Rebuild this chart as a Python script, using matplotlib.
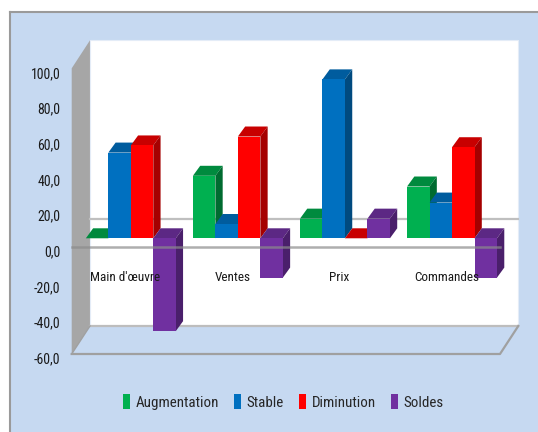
"""Recreate the 3D clustered column chart (Augmentation / Stable / Diminution / Soldes)."""

import matplotlib
matplotlib.use("Agg")
import matplotlib.pyplot as plt
import matplotlib.transforms as mtransforms
from matplotlib import font_manager
from matplotlib.patches import Polygon, Rectangle, Patch
from matplotlib.lines import Line2D

# Data
categories = ["Main d'œuvre", "Ventes", "Prix", "Commandes"]
series_names = ["Augmentation", "Stable", "Diminution", "Soldes"]
augmentation = [0, 35, 11, 29]
stable = [48, 8, 89, 20]
diminution = [52, 57, 0, 51]
soldes = [-52, -22, 11, -22]
y_ticks = [-60, -40, -20, 0, 20, 40, 60, 80, 100]

# front, top and side face colours for each series
front_colors = ["#00B050", "#0070C0", "#FF0000", "#7030A0"]
top_colors = ["#008A3E", "#005C9E", "#C80000", "#5C2884"]
side_colors = ["#006B30", "#004A7F", "#A50000", "#4A1F6B"]

BG = "#C6D9F1"

# oblique depth of the walls / bars (data units)
WALL_DX, WALL_DY = 0.171, 15.7
BAR_SHIFT_DX, BAR_SHIFT_DY = 0.052, 4.8
BAR_DX, BAR_DY = 0.068, 5.6
BAR_W = 0.21
GROUP_PAD = 0.08


def pick_font():
    """Find a narrow font, the reference uses a condensed face."""
    entries = [(f.name, f.stretch) for f in font_manager.fontManager.ttflist]
    names = {e[0] for e in entries}
    for name in ["Liberation Sans Narrow", "Roboto Condensed", "Open Sans Condensed",
                 "DejaVu Sans Condensed"]:
        if name in names:
            return [name, "DejaVu Sans"], "normal"
    for name, stretch in entries:
        if name in ("DejaVu Sans", "Open Sans", "Roboto", "Noto Sans") and \
                stretch in ("condensed", "semi-condensed", 75, 87.5):
            return [name, "DejaVu Sans"], "condensed"
    return ["Roboto", "DejaVu Sans"], "normal"


FONT, STRETCH = pick_font()


def draw_bar(ax, x0, value, i):
    """Draw one 3D-looking column with its front, top and side faces."""
    x0 = x0 + BAR_SHIFT_DX
    lo = BAR_SHIFT_DY + min(value, 0)
    hi = BAR_SHIFT_DY + max(value, 0)
    x1 = x0 + BAR_W
    top = [(x0, hi), (x1, hi), (x1 + BAR_DX, hi + BAR_DY), (x0 + BAR_DX, hi + BAR_DY)]
    side = [(x1, lo), (x1, hi), (x1 + BAR_DX, hi + BAR_DY), (x1 + BAR_DX, lo + BAR_DY)]
    ax.add_patch(Polygon(top, closed=True, facecolor=top_colors[i], edgecolor="none",
                         clip_on=False, zorder=3))
    ax.add_patch(Polygon(side, closed=True, facecolor=side_colors[i], edgecolor="none",
                         clip_on=False, zorder=3))
    if hi > lo:
        ax.add_patch(Rectangle((x0, lo), BAR_W, hi - lo, facecolor=front_colors[i],
                               edgecolor="none", clip_on=False, zorder=3))


def draw_walls(ax, ymin, ymax, n):
    """Left wall, back wall and floor."""
    left = [(0, ymin), (0, ymax), (WALL_DX, ymax + WALL_DY), (WALL_DX, ymin + WALL_DY)]
    ax.add_patch(Polygon(left, closed=True, facecolor="#A6A6A6", edgecolor="none",
                         clip_on=False, zorder=1))
    ax.add_patch(Rectangle((WALL_DX, ymin + WALL_DY), n, ymax - ymin, facecolor="white",
                           edgecolor="#E4ECF7", lw=0.8, clip_on=False, zorder=1))
    floor = [(0, ymin), (n, ymin), (n + WALL_DX, ymin + WALL_DY), (WALL_DX, ymin + WALL_DY)]
    ax.add_patch(Polygon(floor, closed=True, facecolor=BG, edgecolor="none",
                         clip_on=False, zorder=1))
    ax.plot([WALL_DX, n + WALL_DX], [ymin + WALL_DY] * 2, color="#BDBDBD", lw=1.6,
            clip_on=False, zorder=2)
    ax.plot([0, n, n + WALL_DX], [ymin, ymin, ymin + WALL_DY], color="#A0A0A0", lw=1.6,
            clip_on=False, zorder=2)
    ax.plot([0, WALL_DX], [ymin, ymin + WALL_DY], color="#A0A0A0", lw=1.0,
            clip_on=False, zorder=2)
    # zero gridline on the back wall
    ax.plot([WALL_DX, n + WALL_DX], [WALL_DY, WALL_DY], color="#BFBFBF", lw=1.6,
            clip_on=False, zorder=2)


def main() -> None:
    W, H = 538, 432
    fig = plt.figure(figsize=(W / 100, H / 100), dpi=100)
    fig.patch.set_facecolor("white")

    # chart area background with its border (top and left visible)
    fig.add_artist(Rectangle((10 / W, 0), 1, (H - 12) / H, transform=fig.transFigure,
                             facecolor=BG, edgecolor="none", zorder=0))
    fig.add_artist(Line2D([10 / W, 1], [(H - 12) / H] * 2, transform=fig.transFigure,
                          color="#9A9A9A", lw=1.5))
    fig.add_artist(Line2D([10 / W] * 2, [0, (H - 12) / H], transform=fig.transFigure,
                          color="#9A9A9A", lw=1.5))

    ax = fig.add_axes([71.7 / W, (H - 354) / H, 428.3 / W, 285.7 / H])
    ax.set_facecolor("none")
    n = len(categories)
    ymin, ymax = y_ticks[0], y_ticks[-1]
    ax.set_xlim(0, n)
    ax.set_ylim(ymin, ymax)
    for s in ax.spines.values():
        s.set_visible(False)
    ax.set_xticks([])
    ax.set_yticks(y_ticks)
    ax.set_yticklabels([f"{v:.1f}".replace(".", ",") for v in y_ticks],
                       fontfamily=FONT, fontstretch=STRETCH, fontsize=10, color="#1A1A1A")
    ax.tick_params(axis="y", length=0, pad=8)
    shift = mtransforms.ScaledTranslation(0, -4 / 100, fig.dpi_scale_trans)
    for lbl in ax.get_yticklabels():
        lbl.set_transform(lbl.get_transform() + shift)

    draw_walls(ax, ymin, ymax, n)

    series = [augmentation, stable, diminution, soldes]
    for c in range(n):
        for i, values in enumerate(series):
            draw_bar(ax, c + GROUP_PAD + i * BAR_W, values[c], i)

    # front zero line drawn over the bars
    ax.plot([0, n], [0, 0], color="#8C8C8C", lw=1.8, alpha=0.7, clip_on=False, zorder=4)

    for c, name in enumerate(categories):
        ax.text(c + 0.5, -16.9, name, ha="center", va="center", fontfamily=FONT,
                fontstretch=STRETCH, fontsize=9.5, color="#1A1A1A", zorder=5)

    handles = [Patch(facecolor=col, edgecolor="none") for col in front_colors]
    prop = font_manager.FontProperties(family=FONT, stretch=STRETCH, size=10.8)
    fig.legend(handles, series_names, loc="center", bbox_to_anchor=(283 / W, (H - 402) / H),
               ncol=4, frameon=False, prop=prop,
               handlelength=0.5, handleheight=1.1, handletextpad=0.35,
               columnspacing=1.0, labelcolor="#262626")

    fig.savefig("out.png", dpi=100, facecolor=fig.get_facecolor())


if __name__ == "__main__":
    main()
